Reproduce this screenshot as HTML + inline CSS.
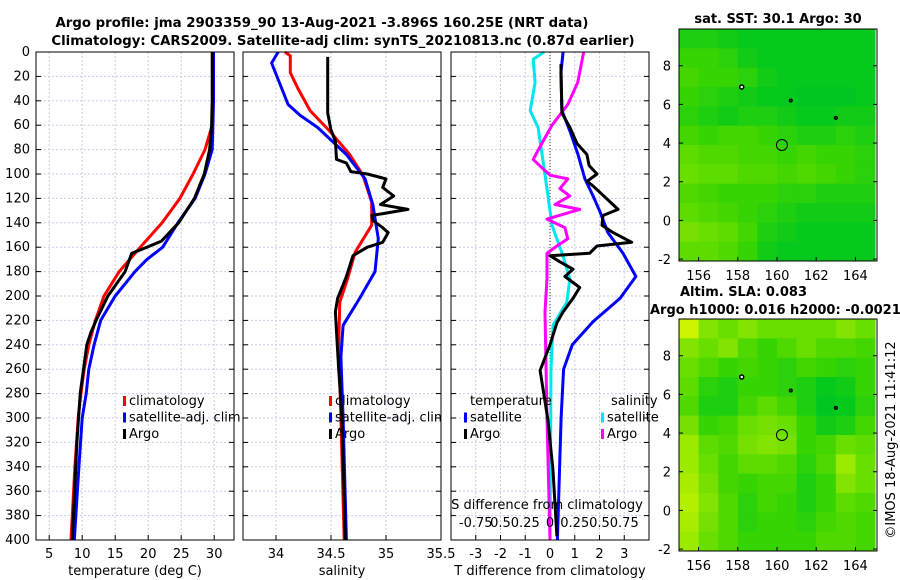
<!DOCTYPE html>
<html><head><meta charset="utf-8">
<style>
html,body{margin:0;padding:0;background:#fff;}
svg{display:block;font-family:"DejaVu Sans","Liberation Sans",sans-serif;}
</style></head>
<body>
<svg id="fig" width="900" height="580" viewBox="0 0 900 580" xmlns="http://www.w3.org/2000/svg">
<text x="322" y="27" text-anchor="middle" font-size="13.3" font-weight="bold">Argo profile: jma 2903359_90 13-Aug-2021 -3.896S 160.25E (NRT data)</text>
<text x="343" y="45" text-anchor="middle" font-size="13.3" font-weight="bold">Climatology: CARS2009. Satellite-adj clim: synTS_20210813.nc (0.87d earlier)</text>
<text x="778" y="23" text-anchor="middle" font-size="13" font-weight="bold">sat. SST: 30.1 Argo: 30</text>
<text x="680" y="296" font-size="13" font-weight="bold">Altim. SLA: 0.083</text>
<text x="650" y="314" font-size="13" font-weight="bold">Argo h1000: 0.016 h2000: -0.0021</text>
<text transform="translate(895,440) rotate(-90)" text-anchor="middle" font-size="13">©IMOS 18-Aug-2021 11:41:12</text>
<g id="g"></g>
</svg>
<script>
// ---------- data ----------
const tDepth = [0,20,40,60,80,100,120,140,160,180,200,220,240,260,280,300,340,400];
const tClim  = [29.8,29.8,29.8,29.7,28.6,26.8,24.8,22.1,18.8,15.6,13.3,12.0,11.0,10.3,9.8,9.4,8.9,8.3];
const tSatDepth = [0,20,40,60,80,100,120,140,160,170,180,200,220,240,260,280,300,340,400];
const tSat   = [29.9,29.9,29.9,29.8,29.7,28.6,27.1,24.5,22.2,19.8,18.0,15.0,12.8,11.8,11.0,10.6,10.0,9.5,8.8];
const tArgoDepth = [0,20,40,60,80,100,120,140,155,160,165,180,200,220,230,240,280,320,400];
const tArgo  = [29.7,29.7,29.7,29.6,29.3,28.5,27.0,24.6,22.0,19.8,17.5,16.5,13.9,12.1,11.3,10.7,9.7,9.2,8.5];

const sClimDepth = [0,3,17,30,48,65,84,101,123,142,164,186,205,240,300,400];
const sClim = [34.08,34.13,34.13,34.2,34.31,34.49,34.67,34.79,34.87,34.87,34.72,34.65,34.58,34.57,34.59,34.62];
const sSatDepth = [0,9,43,52,62,84,104,125,153,180,202,224,250,300,400];
const sSat = [34.02,33.96,34.11,34.22,34.38,34.64,34.81,34.88,34.93,34.9,34.76,34.61,34.59,34.61,34.64];
const sArgoDepth = [4,50,64,73,88,91,98,100,104,111,118,125,129,134,138,144,148,156,160,167,184,202,213,229,260,300,400];
const sArgo = [34.47,34.47,34.5,34.54,34.55,34.64,34.68,34.83,35.0,34.97,35.07,34.95,35.2,34.87,34.88,34.97,35.02,34.97,34.83,34.7,34.64,34.56,34.54,34.55,34.57,34.6,34.63];

const dSatSDepth = [0,6,25,48,62,84,118,142,167,186,205,224,260,400];
const dSatS = [-0.06,-0.17,-0.15,-0.2,-0.12,-0.08,-0.02,0.02,0.13,0.2,0.17,0.03,0.01,0.0];
const dArgoSDepth = [0,25,43,60,73,88,95,101,104,112,118,125,129,137,144,153,159,165,186,213,300,400];
const dArgoS = [0.34,0.28,0.18,0.02,-0.07,-0.17,-0.08,0,0.18,0.1,0.2,0.05,0.3,-0.03,0.15,0.18,0.07,-0.03,-0.03,-0.05,-0.03,0.0];
const dSatTDepth = [0,17,48,65,84,104,118,131,148,165,184,202,221,240,260,300,400];
const dSatT = [0.53,0.44,0.48,0.81,1.13,1.41,1.74,2.02,2.34,2.95,3.47,2.83,1.74,0.9,0.55,0.45,0.3];
const dArgoTDepth = [10,50,62,75,84,93,100,106,110,129,134,142,148,156,159,165,167,172,178,184,193,202,213,222,240,261,302,343,397];
const dArgoT = [0.44,0.48,0.81,1.09,1.49,1.58,1.9,1.5,1.75,2.75,2.14,2.1,2.55,3.3,1.9,1.6,0,0.4,0.93,0.6,1.2,0.93,0.53,0.28,0.0,-0.4,-0.08,0.12,0.28];

const depthTicks = [0,20,40,60,80,100,120,140,160,180,200,220,240,260,280,300,320,340,360,380,400];
const tTicks = [5,10,15,20,25,30];
const sTicks = [34,34.5,35,35.5];
const dTTicks = [-3,-2,-1,0,1,2,3];
const dSTicks = [-0.75,-0.5,-0.25,0,0.25,0.5,0.75];
const dSTickLabels = ["-0.75","0.5","0.25","0","0.25","0.5","0.75"];
const lonTicks = [156,158,160,162,164];
const latTicks = [-2,0,2,4,6,8];

const sstGrid = [
[0.2,0.2,0.15,0.1,0.1,0.1,0.1,0.1,0.1,0.1],
[0.3,0.3,0.25,0.15,0.1,0.1,0.1,0.1,0.1,0.1],
[0.35,0.3,0.3,0.25,0.15,0.1,0.1,0.1,0.1,0.1],
[0.3,0.25,0.2,0.15,0.1,0.1,0.05,0.05,0.05,0.1],
[0.25,0.2,0.15,0.2,0.2,0.15,0.1,0.1,0.15,0.15],
[0.35,0.3,0.35,0.35,0.3,0.25,0.2,0.2,0.25,0.2],
[0.45,0.4,0.4,0.35,0.35,0.3,0.35,0.3,0.3,0.25],
[0.5,0.45,0.45,0.4,0.4,0.35,0.4,0.35,0.3,0.25],
[0.4,0.35,0.3,0.3,0.3,0.25,0.25,0.2,0.2,0.2],
[0.45,0.4,0.35,0.3,0.25,0.2,0.15,0.15,0.15,0.15],
[0.55,0.5,0.45,0.35,0.2,0.15,0.1,0.1,0.1,0.1],
[0.45,0.45,0.4,0.3,0.15,0.1,0.1,0.1,0.1,0.1]];
const slaGrid = [
[0.9,0.6,0.5,0.6,0.5,0.5,0.5,0.5,0.6,0.5],
[0.6,0.5,0.6,0.4,0.3,0.4,0.5,0.4,0.4,0.35],
[0.5,0.4,0.3,0.35,0.3,0.25,0.35,0.3,0.25,0.3],
[0.45,0.25,0.2,0.3,0.3,0.25,0.2,0.1,0.15,0.3],
[0.4,0.2,0.2,0.35,0.45,0.35,0.2,0.05,0.1,0.25],
[0.55,0.3,0.35,0.5,0.55,0.5,0.3,0.15,0.2,0.35],
[0.7,0.45,0.4,0.55,0.6,0.55,0.3,0.35,0.5,0.45],
[0.7,0.5,0.35,0.45,0.45,0.4,0.25,0.4,0.7,0.5],
[0.75,0.55,0.35,0.3,0.35,0.35,0.2,0.3,0.6,0.5],
[0.8,0.6,0.4,0.25,0.35,0.3,0.2,0.3,0.45,0.4],
[0.75,0.55,0.4,0.25,0.3,0.3,0.25,0.35,0.4,0.35],
[0.7,0.5,0.4,0.3,0.3,0.3,0.3,0.4,0.4,0.35]];
const floatLon = [160.25,158.2,160.7,163.0];
const floatLat = [3.9,6.9,6.2,5.3];

// ---------- drawing ----------
const NS="http://www.w3.org/2000/svg";
const G=document.getElementById('g');
function mk(tag,attrs,parent){const e=document.createElementNS(NS,tag);for(const k in attrs)e.setAttribute(k,attrs[k]);(parent||G).appendChild(e);return e;}
function txt(x,y,s,size,anchor,parent){const e=mk('text',{x:x,y:y,'font-size':size,'text-anchor':anchor||'middle'},parent);e.textContent=s;return e;}

const Y0=52,Y1=540;
const yD=d=>Y0+(d/400)*(Y1-Y0);
function lin(d0,d1,p0,p1){return v=>p0+(v-d0)/(d1-d0)*(p1-p0);}

function panel(name,x0,x1,xs,ticks,labels,xlabel,showY){
  const g=mk('g',{});
  
  
  mk('rect',{x:x0,y:Y0,width:x1-x0,height:Y1-Y0,fill:'#fff'},g);
  depthTicks.forEach(d=>{
    const l=mk('line',{x1:x0,x2:x1,y1:yD(d),y2:yD(d),stroke:'#c8cde8','stroke-dasharray':'2,2','stroke-width':1},g);
    
    
    mk('line',{x1:x0,x2:x0+5,y1:yD(d),y2:yD(d),stroke:'#000'},g);
    mk('line',{x1:x1,x2:x1-5,y1:yD(d),y2:yD(d),stroke:'#000'},g);
    if(showY){const t=txt(x0-6,yD(d)+4,String(d),13,'end',g);}
  });
  ticks.forEach((v,i)=>{
    const x=xs(v);
    if(x>x0+1&&x<x1-1){
      mk('line',{x1:x,x2:x,y1:Y0,y2:Y1,stroke:'#c8cde8','stroke-dasharray':'2,2'},g);
      mk('line',{x1:x,x2:x,y1:Y1,y2:Y1-5,stroke:'#000'},g);
    }
    const t=txt(x,Y1+18,labels[i],13,'middle',g);
    
    
  });
  const xl=txt((x0+x1)/2,Y1+35,xlabel,13,'middle',g);
  
  
  return g;
}
function frame(x0,x1,g){mk('rect',{x:x0,y:Y0,width:x1-x0,height:Y1-Y0,fill:'none',stroke:'#000','stroke-width':1},g);}
function series(g,name,depths,vals,xs,color){
  const pts=depths.map((d,i)=>xs(vals[i]).toFixed(1)+','+yD(d).toFixed(1)).join(' ');
  const p=mk('polyline',{points:pts,fill:'none',stroke:color,'stroke-width':3,'stroke-linejoin':'round'},g);
  
  
}
function legend(g,x,y,items){
  items.forEach((it,i)=>{
    const r=mk('rect',{x:x,y:y+i*16.5-9,width:3,height:10,fill:it[1]},g);
    
    
    const t=txt(x+6,y+i*16.5,it[0],13,'start',g);
    
    
  });
}

const xT=lin(3,33,36,234);
const p1=panel('temperature-panel',36,234,xT,tTicks,tTicks.map(String),'temperature (deg C)',true);
series(p1,'temp-climatology-line',tDepth,tClim,xT,'#ff0000');
series(p1,'temp-satellite-line',tSatDepth,tSat,xT,'#0000ff');
series(p1,'temp-argo-line',tArgoDepth,tArgo,xT,'#000000');
legend(p1,123,405,[['climatology','#ff0000'],['satellite-adj. clim','#0000ff'],['Argo','#000']]);
frame(36,234,p1);

const xS=lin(33.7,35.5,243,441);
const p2=panel('salinity-panel',243,441,xS,sTicks,sTicks.map(String),'salinity',false);
series(p2,'sal-climatology-line',sClimDepth,sClim,xS,'#ff0000');
series(p2,'sal-satellite-line',sSatDepth,sSat,xS,'#0000ff');
series(p2,'sal-argo-line',sArgoDepth,sArgo,xS,'#000000');
const cp=mk('clipPath',{id:'c2'});mk('rect',{x:243,y:0,width:198,height:580},cp);
const lg2=mk('g',{'clip-path':'url(#c2)'},p2);
legend(lg2,329,405,[['climatology','#ff0000'],['satellite-adj. clim','#0000ff'],['Argo','#000']]);
frame(243,441,p2);

const xdT=lin(-4,4,451,649);
const xdS=lin(-1,1,451,649);
const p3=panel('difference-panel',451,649,xdT,dTTicks,dTTicks.map(String),'T difference from climatology',false);
mk('line',{x1:xdT(0),x2:xdT(0),y1:Y0,y2:Y1,stroke:'#333','stroke-dasharray':'1,2'},p3);
series(p3,'sal-diff-satellite-line',dSatSDepth,dSatS,xdS,'#00e5ee');
series(p3,'sal-diff-argo-line',dArgoSDepth,dArgoS,xdS,'#ff00ff');
series(p3,'temp-diff-satellite-line',dSatTDepth,dSatT,xdT,'#0000ff');
series(p3,'temp-diff-argo-line',dArgoTDepth,dArgoT,xdT,'#000000');
const th=txt(470,405,'temperature',13,'start',p3);
const sh=txt(611,405,'salinity',13,'start',p3);
legend(p3,464,421.5,[['satellite','#0000ff'],['Argo','#000']]);
legend(p3,601,421.5,[['satellite','#00e5ee'],['Argo','#ff00ff']]);
const stt=txt(547,509,'S difference from climatology',13,'middle',p3);

dSTicks.forEach((v,i)=>{const t=txt(xdS(v),527,dSTickLabels[i],13,'middle',p3);});
frame(451,649,p3);

const MX0=679,MX1=877;
const xLon=lin(155,165.1,MX0,MX1);
function color(v){
  const r=Math.max(0,Math.min(220,Math.round(-20+250*v)));
  const gg=Math.min(245,Math.round(195+55*v));
  const b=Math.max(0,Math.round(40-120*v));
  return `rgb(${r},${gg},${b})`;
}
function map(name,top,grid){
  const bot=top+232;
  const yLat=lin(9.9,-2.1,top,bot);
  const g=mk('g',{});
  
  
  grid.forEach((row,ri)=>row.forEach((v,ci)=>{
    const x0=xLon(155+ci),x1=xLon(156+ci),y0=yLat(9.9-ri),y1=yLat(8.9-ri);
    const c=mk('rect',{x:x0,y:Math.max(top,y0),width:x1-x0+0.5,height:Math.min(bot,y1)-Math.max(top,y0)+0.5,fill:color(v)},g);
    
    
  }));
  floatLon.forEach((lo,i)=>{
    const m=mk('circle',{cx:xLon(lo),cy:yLat(floatLat[i]),r:i==0?5.5:(i==1?2:1.3),fill:i==1?'#fff':'none',stroke:'#000','stroke-width':i==0?1:1.5},g);
    
    
  });
  mk('rect',{x:MX0,y:top,width:MX1-MX0,height:bot-top,fill:'none',stroke:'#000'},g);
  lonTicks.forEach(v=>{mk('line',{x1:xLon(v),x2:xLon(v),y1:bot,y2:bot-4,stroke:'#000'},g);
    const t=txt(xLon(v),bot+19,String(v),13,'middle',g);});
  latTicks.forEach(v=>{mk('line',{x1:MX0,x2:MX0+4,y1:yLat(v),y2:yLat(v),stroke:'#000'},g);
    mk('line',{x1:MX1,x2:MX1-4,y1:yLat(v),y2:yLat(v),stroke:'#000'},g);
    const t=txt(MX0-8,yLat(v)+5,String(v),13,'end',g);});
}
map('sst-map',29,sstGrid);
map('sla-map',319,slaGrid);
</script>
</body></html>
